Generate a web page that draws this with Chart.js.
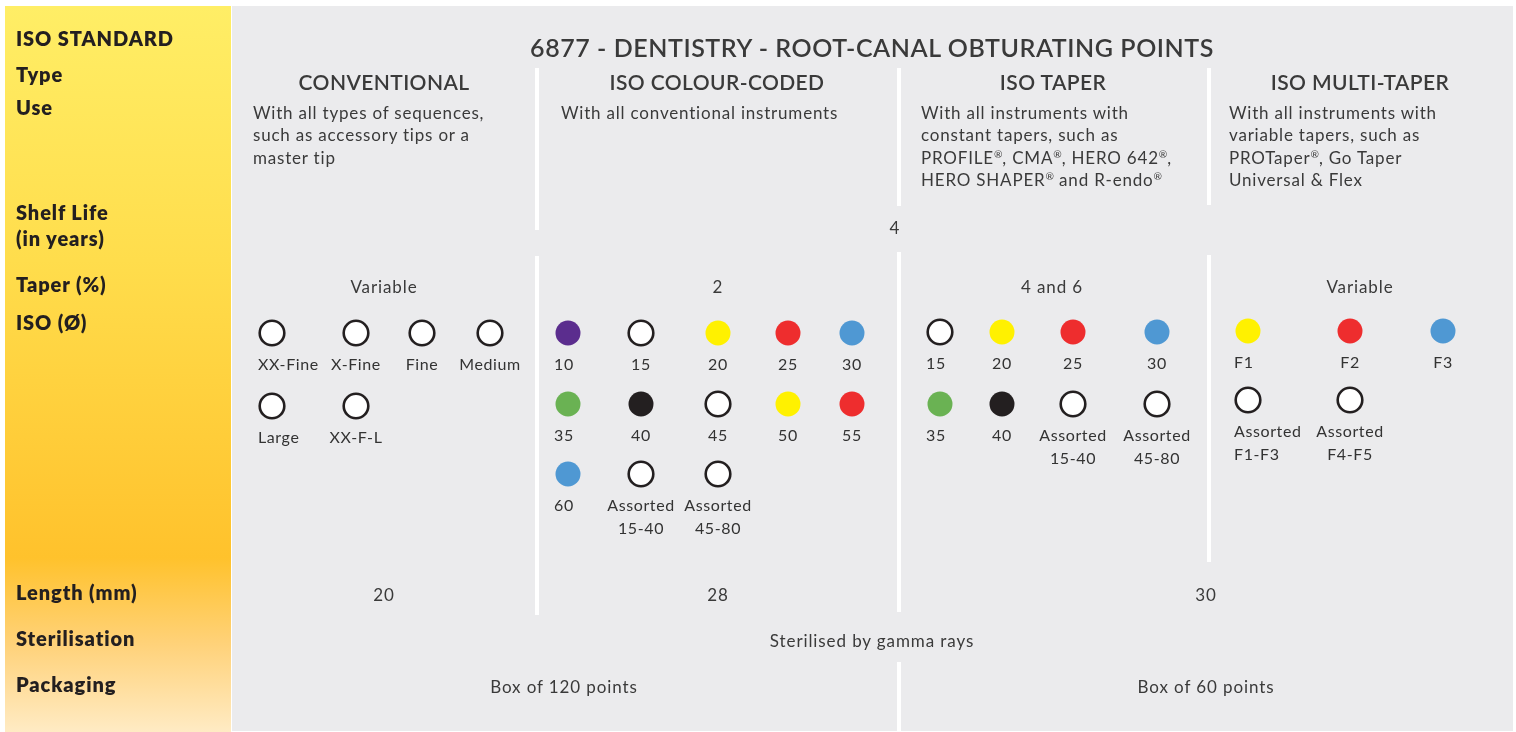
<!DOCTYPE html>
<html>
<head>
<meta charset="utf-8">
<script src="https://cdn.jsdelivr.net/npm/chart.js@4.4.1/dist/chart.umd.min.js"></script>
<style>
  body { margin: 0; background: #fff; width: 1516px; height: 732px; overflow: hidden; position: relative; font-family: Lato, sans-serif; }
  #side { position: absolute; left: 5px; top: 6px; width: 226px; height: 726px;
    background: linear-gradient(to bottom, #ffee66 0%, #ffdd4c 35%, #ffc22c 76%, #ffd27a 88%, #ffebc4 100%); }
  #main { position: absolute; left: 232px; top: 6px; width: 1281px; height: 725px; background: #ebebed; }
  .sep { position: absolute; width: 4px; background: #fff; }
  #chart { position: absolute; left: 0; top: 0; }
  .t { position: absolute; white-space: nowrap; color: #3a3a3a; line-height: 1.2; }
  .c { transform: translate(-50%, -50%); text-align: center; }
  .l { transform: translate(0, -50%); }
  .side { font-weight: 800; font-size: 20px; color: #231f20; letter-spacing: 0.9px; }
  .title { font-weight: 600; font-size: 25px; letter-spacing: 0.55px; }
  .head { font-weight: 600; font-size: 21px; letter-spacing: 0.4px; }
  .body { font-size: 17px; line-height: 22.4px; letter-spacing: 0.8px; }
  .val { font-size: 17px; letter-spacing: 0.9px; }
  .dot { font-size: 16px; line-height: 23px; letter-spacing: 0.6px; color: #333; }
  sup { font-size: 0.6em; vertical-align: 0.6em; line-height: 0; letter-spacing: 0; }
</style>
</head>
<body>
<div id="side"></div>
<div id="main"></div>
<canvas id="chart" width="1516" height="732"></canvas>
<script>
'use strict';

// row labels down the yellow column
const rowLabels = ['ISO STANDARD', 'Type', 'Use', 'Shelf Life', '(in years)', 'Taper (%)', 'ISO (Ø)', 'Length (mm)', 'Sterilisation', 'Packaging'];

const title = '6877 - DENTISTRY - ROOT-CANAL OBTURATING POINTS';
const groupNames = ['CONVENTIONAL', 'ISO COLOUR-CODED', 'ISO TAPER', 'ISO MULTI-TAPER'];
const groupUse = [
  ['With all types of sequences,', 'such as accessory tips or a', 'master tip'],
  ['With all conventional instruments'],
  ['With all instruments with', 'constant tapers, such as', 'PROFILE<sup>®</sup>, CMA<sup>®</sup>, HERO 642<sup>®</sup>,', 'HERO SHAPER<sup>®</sup> and R-endo<sup>®</sup>'],
  ['With all instruments with', 'variable tapers, such as', 'PROTaper<sup>®</sup>, Go Taper', 'Universal &amp; Flex'],
];
const shelfLife = '4';
const tapers = ['Variable', '2', '4 and 6', 'Variable'];
const lengths = ['20', '28', '30'];
const sterilisation = 'Sterilised by gamma rays';
const packaging = ['Box of 120 points', 'Box of 60 points'];

// ISO sizes and their colour code, per group
const convSizes = ['XX-Fine', 'X-Fine', 'Fine', 'Medium', 'Large', 'XX-F-L'];
const convColors = ['white', 'white', 'white', 'white', 'white', 'white'];
const codedSizes = ['10', '15', '20', '25', '30', '35', '40', '45', '50', '55', '60', 'Assorted\n15-40', 'Assorted\n45-80'];
const codedColors = ['purple', 'white', 'yellow', 'red', 'blue', 'green', 'black', 'white', 'yellow', 'red', 'blue', 'white', 'white'];
const taperSizes = ['15', '20', '25', '30', '35', '40', 'Assorted\n15-40', 'Assorted\n45-80'];
const taperColors = ['white', 'yellow', 'red', 'blue', 'green', 'black', 'white', 'white'];
const multiSizes = ['F1', 'F2', 'F3', 'Assorted\nF1-F3', 'Assorted\nF4-F5'];
const multiColors = ['yellow', 'red', 'blue', 'white', 'white'];

// styling / layout
const palette = {
  white: '#ffffff', purple: '#5b2d8e', yellow: '#fff100', red: '#ee2d2e',
  blue: '#4f98d3', green: '#6ab253', black: '#231f20',
};
const layouts = [
  { cols: [272, 356, 422, 490], rows: [333, 406] },
  { cols: [568, 641, 718, 788, 852], rows: [333, 404, 474] },
  { cols: [940, 1002, 1073, 1157], rows: [332, 404] },
  { cols: [1248, 1350, 1443], rows: [331, 400] },
];
const groupCenters = [384, 717, 1053, 1360];
const useLeft = [253, 561, 921, 1229];

function put(html, x, y, cls, align) {
  const d = document.createElement('div');
  d.className = 't ' + cls + ' ' + (align || 'c');
  d.style.left = x + 'px';
  d.style.top = y + 'px';
  d.innerHTML = html;
  document.body.appendChild(d);
  return d;
}

function sep(x, y0, y1) {
  const d = document.createElement('div');
  d.className = 'sep';
  d.style.left = x + 'px';
  d.style.top = y0 + 'px';
  d.style.height = (y1 - y0) + 'px';
  document.body.insertBefore(d, document.getElementById('chart'));
}

sep(535, 68, 230); sep(535, 256, 615);
sep(897, 68, 206); sep(897, 252, 612); sep(897, 662, 732);
sep(1207, 68, 205); sep(1207, 255, 562);

// left column
const rowY = [38, 74, 107, 212, 238, 284, 322, 592, 638, 684];
rowLabels.forEach((lab, i) => put(lab, 16, rowY[i], 'side', 'l'));

put(title, 872, 47, 'title');
groupNames.forEach((g, i) => put(g, groupCenters[i], 82, 'head'));
groupUse.forEach((lines, i) => {
  const d = put(lines.join('<br>'), useLeft[i], 102, 'body', 'l');
  d.style.transform = 'none';
});
put(shelfLife, 895, 228, 'val');
tapers.forEach((t, i) => put(t, [384, 718, 1052, 1360][i], 287, 'val'));
lengths.forEach((t, i) => put(t, [384, 718, 1206][i], 595, 'val'));
put(sterilisation, 872, 641, 'val');
packaging.forEach((t, i) => put(t, [564, 1206][i], 687, 'val'));

// build the colour-code dots
const groups = [
  [convSizes, convColors],
  [codedSizes, codedColors],
  [taperSizes, taperColors],
  [multiSizes, multiColors],
];

const datasets = groups.map(([sizes, colors], g) => {
  const lay = layouts[g];
  const n = lay.cols.length;
  const data = sizes.map((s, i) => ({
    x: lay.cols[i % n],
    y: lay.rows[Math.floor(i / n)],
    label: s,
    col: i % n,
  }));
  return {
    label: groupNames[g],
    data: data,
    pointRadius: colors.map((c) => (c === 'white' ? 12.3 : 12.5)),
    pointBackgroundColor: colors.map((c) => palette[c]),
    pointBorderColor: colors.map((c) => (c === 'white' ? '#231f20' : palette[c])),
    pointBorderWidth: colors.map((c) => (c === 'white' ? 2.6 : 0)),
    showLine: false,
  };
});

const ctx = document.getElementById('chart');
const chart = new Chart(ctx, {
  type: 'scatter',
  data: { datasets: datasets },
  options: {
    responsive: false,
    animation: false,
    events: [],
    layout: { padding: 0, autoPadding: false },
    scales: {
      x: { type: 'linear', min: 0, max: 1516, display: false },
      y: { type: 'linear', min: 0, max: 732, reverse: true, display: false },
    },
    plugins: { legend: { display: false }, tooltip: { enabled: false } },
  },
});

// size labels under each dot (first column hangs from the dot's left edge)
chart.data.datasets.forEach((ds) => {
  ds.data.forEach((p) => {
    const px = chart.scales.x.getPixelForValue(p.x);
    const py = chart.scales.y.getPixelForValue(p.y);
    const lines = p.label.split('\n');
    const first = p.col === 0;
    const d = put(lines.join('<br>'), first ? px - 14 : px, py + 19, 'dot', first ? 'l' : 'c');
    d.style.textAlign = first ? 'left' : 'center';
    d.style.transform = first ? 'none' : 'translate(-50%, 0)';
  });
});
</script>
</body>
</html>
